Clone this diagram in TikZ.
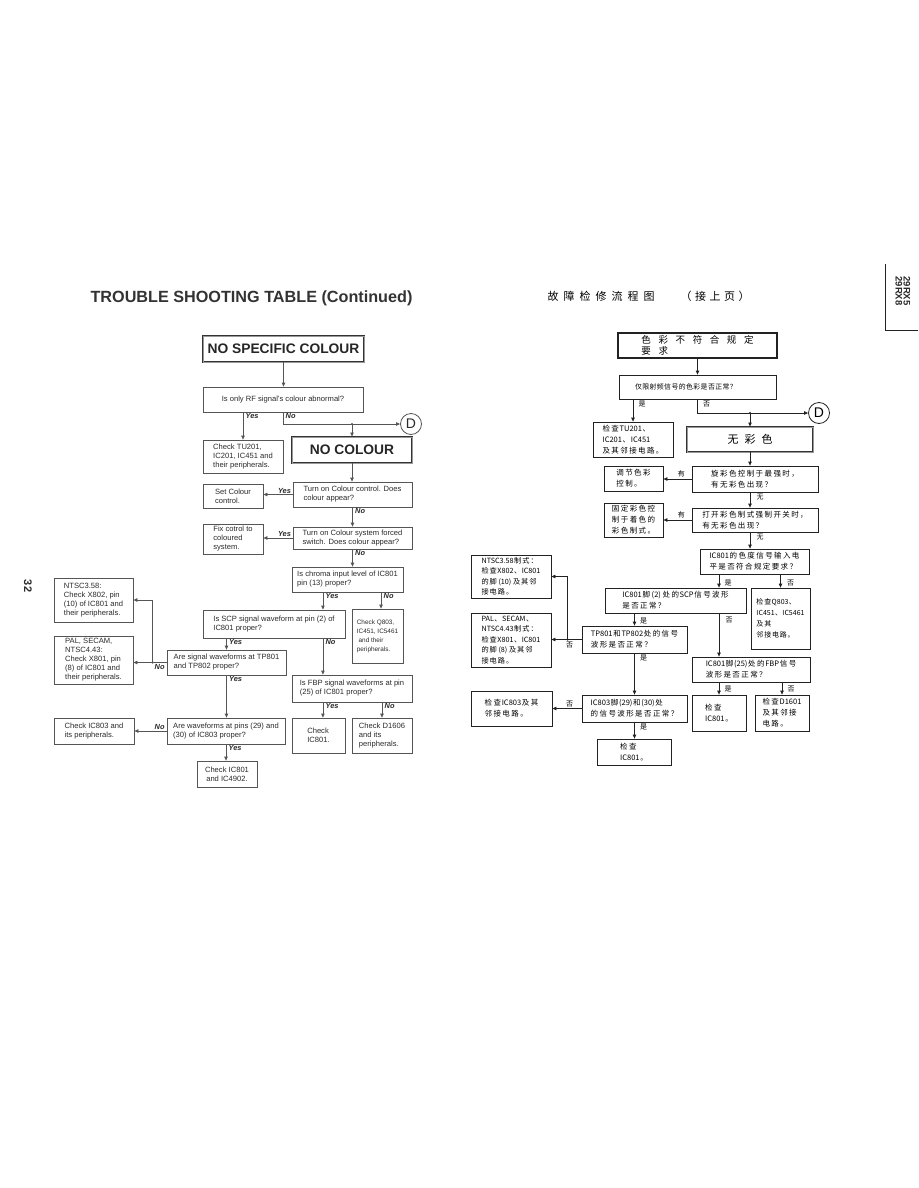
\documentclass[tikz,border=0pt]{standalone}
\usepackage{fontspec}
\setmainfont{Liberation Sans}
\newfontfamily\cjk{Noto Sans CJK SC}
\usetikzlibrary{arrows.meta,calc}
% spacing between CJK characters only (Latin left untouched)
\XeTeXinterchartokenstate=1
\newcount\cjkc
\cjkc="4E00
\loop\ifnum\cjkc<"A000 \XeTeXcharclass\cjkc=1 \advance\cjkc by 1 \repeat
\cjkc="3000
\loop\ifnum\cjkc<"3040 \XeTeXcharclass\cjkc=1 \advance\cjkc by 1 \repeat
\cjkc="FF00
\loop\ifnum\cjkc<"FF60 \XeTeXcharclass\cjkc=1 \advance\cjkc by 1 \repeat
\newdimen\cjkgap \cjkgap=0pt
\newcommand{\gap}[1]{\global\cjkgap#1\relax}
\XeTeXinterchartoks 1 1 = {\hskip\cjkgap\relax}
\XeTeXinterchartoks 0 1 = {\hskip0.5\cjkgap\relax}
\XeTeXinterchartoks 1 0 = {\hskip0.5\cjkgap\relax}
\definecolor{lline}{HTML}{555555}
\definecolor{ltext}{HTML}{2B2B2B}
\definecolor{rline}{HTML}{222222}
\newcommand{\bx}[7][]{%
 \pgfmathsetmacro\bw{#5-#3}\pgfmathsetmacro\bh{#6-#4}%
 \node[box,minimum width=\bw pt,minimum height=\bh pt,#1] (#2) at ({(#3+#5)/2},{(#4+#6)/2}) {#7};}
\begin{document}
\begin{tikzpicture}[x=1pt,y=-1pt,
  box/.style={draw=lline,line width=0.7pt,inner sep=1pt,align=left,text=ltext,font=\fontsize{7.6}{9}\selectfont},
  rbox/.style={draw=rline,text=black,font=\cjk\fontsize{7.5}{11}\selectfont\gap{1.4pt}},
  big/.style={draw=black!80,line width=0.9pt,double=black!40,double distance=0.9pt,align=center,font=\bfseries\fontsize{13.8}{14}\selectfont,text=black!85},
  arr/.style={draw=lline,line width=0.7pt,-{Triangle[length=4pt,width=3.4pt]}},
  rarr/.style={draw=rline,line width=0.7pt,-{Triangle[length=4pt,width=3.4pt]}},
  lab/.style={font=\bfseries\itshape\fontsize{7.4}{8}\selectfont,text=ltext,inner sep=0.5pt},
  rlab/.style={font=\cjk\fontsize{7}{8}\selectfont,inner sep=0.5pt},
  dot/.style={fill=lline},
  rdot/.style={fill=rline},
  dcirc/.style={draw,circle,minimum size=21pt,inner sep=0pt,line width=0.8pt,font=\fontsize{14}{14}\selectfont}]
\useasboundingbox (0,0) rectangle (918,1188);
\fill[white] (0,0) rectangle (918,1188);

% ---------------- left page ----------------
\node[font=\bfseries\fontsize{16.2}{17}\selectfont,text=black!80] (ltitle) at (251.5,298) {TROUBLE SHOOTING TABLE (Continued)};
\node[rotate=-90,font=\bfseries\fontsize{11}{11}\selectfont,text=ltext] (pg) at (28,586) {32};

\bx[big]{nsc}{203}{336}{364}{362}{NO SPECIFIC COLOUR}
\bx[align=center]{q1}{203}{387}{363}{412}{Is only RF signal's colour abnormal?}
\bx{tu}{203}{440}{283}{473}{Check TU201,\\IC201, IC451 and\\their peripherals.}
\bx[big]{nc}{292}{437}{412}{463}{NO COLOUR}
\bx{c1}{293}{482}{412}{507}{Turn on Colour control. Does\\colour appear?}
\bx{setc}{203}{484}{263}{508}{Set Colour\\control.}
\bx{c2}{293}{527}{412}{549}{Turn on Colour system forced\\switch. Does colour appear?}
\bx{fix}{203}{524}{263}{554}{Fix cotrol to\\coloured\\system.}
\bx{c3}{292}{567}{403}{592}{Is chroma input level of IC801\\pin (13) proper?}
\bx{scp}{203}{610}{345}{638}{Is SCP signal waveform at pin (2) of\\IC801 proper?}
\bx[font=\fontsize{6.4}{9}\selectfont]{q803}{352}{609}{403}{663}{Check Q803,\\IC451, IC5461\\\ and their\\peripherals.}
\bx{tp}{167}{650}{286}{675}{Are signal waveforms at TP801\\and TP802 proper?}
\bx{ntsc}{54}{578}{133}{622}{NTSC3.58:\\Check X802, pin\\(10) of IC801 and\\their peripherals.}
\bx{pal}{54}{636}{133}{684}{PAL, SECAM,\\NTSC4.43:\\Check X801, pin\\(8) of IC801 and\\their peripherals.}
\bx{fbp}{292}{675}{412}{702}{Is FBP signal waveforms at pin\\(25) of IC801 proper?}
\bx{ic801}{292}{718}{345}{753}{Check\\IC801.}
\bx{d1606}{352}{718}{412}{753}{Check D1606\\and its\\peripherals.}
\bx{w29}{167}{718}{285}{744}{Are waveforms at pins (29) and\\(30) of IC803 proper?}
\bx{ic803}{54}{718}{134}{744}{Check IC803 and\\its peripherals.}
\bx[align=center]{chk}{197}{761}{257}{787}{Check IC801\\and IC4902.}
\node[dcirc,draw=lline,text=ltext] (D) at (411,424) {D};

\draw[arr] (nsc.south) -- (nsc.south |- q1.north);
\draw[arr] (q1.south -| tu.north) -- (tu.north);
\node[lab,anchor=north west] at ([xshift=2pt]q1.south -| tu.north) {Yes};
\draw[arr] (q1.south) |- (D.west);
\node[lab,anchor=north west] at ([xshift=2pt]q1.south) {No};
\coordinate (j0) at (nc.north |- D.west);
\fill[dot] (j0) circle (1.2pt);
\draw[arr] (j0) -- (nc.north);
\draw[arr] (nc.south) -- (nc.south |- c1.north);
\draw[arr] (c1.west) -- (c1.west -| setc.east);
\node[lab,anchor=south east] at ([xshift=-1pt,yshift=0.5pt]c1.west) {Yes};
\draw[arr] (c1.south) -- (c1.south |- c2.north);
\node[lab,anchor=north west] at ([xshift=2pt]c1.south) {No};
\draw[arr] (c2.west) -- (c2.west -| fix.east);
\node[lab,anchor=south east] at ([xshift=-1pt,yshift=0.5pt]c2.west) {Yes};
\draw[arr] (c2.south) -- (c2.south |- c3.north);
\node[lab,anchor=north west] at ([xshift=2pt]c2.south) {No};
\coordinate (c3y) at ($(c3.south west)!0.28!(c3.south east)$);
\coordinate (c3n) at ($(c3.south west)!0.8!(c3.south east)$);
\draw[arr] (c3y) -- (c3y |- scp.north);
\node[lab,anchor=north west] at ([xshift=2pt]c3y) {Yes};
\draw[arr] (c3n) -- (c3n |- q803.north);
\node[lab,anchor=north west] at ([xshift=2pt]c3n) {No};
\draw[arr] (scp.south -| tp.north) -- (tp.north);
\node[lab,anchor=north west] at ([xshift=2pt]scp.south -| tp.north) {Yes};
\draw[arr] (scp.south -| c3y) -- (c3y |- fbp.north);
\node[lab,anchor=north west] at ([xshift=2pt]scp.south -| c3y) {No};
\coordinate (j1) at ($(tp.west)+(-14,0)$);
\draw[arr] (tp.west) -- (tp.west -| pal.east);
\draw[arr] (j1) |- (ntsc.east);
\fill[dot] (j1) circle (1.2pt);
\node[lab,anchor=north] at ([xshift=-7pt,yshift=-1.5pt]tp.west) {No};
\draw[arr] (tp.south) -- (tp.south |- w29.north);
\node[lab,anchor=north west] at ([xshift=2pt]tp.south) {Yes};
\draw[arr] (fbp.south -| c3y) -- (c3y |- ic801.north);
\node[lab,anchor=north west] at ([xshift=2pt]fbp.south -| c3y) {Yes};
\draw[arr] (fbp.south -| d1606.north) -- (d1606.north);
\node[lab,anchor=north west] at ([xshift=2pt]fbp.south -| d1606.north) {No};
\draw[arr] (w29.west) -- (w29.west -| ic803.east);
\node[lab,anchor=south] at ([xshift=-7pt,yshift=1pt]w29.west) {No};
\draw[arr] (w29.south) -- (w29.south |- chk.north);
\node[lab,anchor=north west] at ([xshift=2pt]w29.south) {Yes};

% ---------------- right page ----------------
\node[font={\cjk\fontsize{11}{12}\selectfont\gap{5pt}}] (rtitle) at (601,296) {故障检修流程图};
\node[font={\cjk\fontsize{11}{12}\selectfont\gap{3.5pt}}] (rtitle2) at (715,296) {（接上页）};
\node[rotate=-90,align=center,font=\bfseries\fontsize{9.5}{8}\selectfont,text=ltext] (mdl) at (903,291) {29RX5\\29RX8};
\draw[line width=0.8pt,draw=rline] (885,264) -- (885,330) -- (918,330);

\bx[rbox,line width=1.4pt,font={\cjk\fontsize{9.5}{11}\selectfont\gap{7.6pt}}]{rt}{618}{333}{777}{358}{色彩不符合规定\\要求}
\bx[rbox,align=left,text width=125pt,font={\cjk\fontsize{6.9}{8}\selectfont\gap{0.4pt}}]{rq1}{619}{375}{776}{399}{仅限射频信号的色彩是否正常？}
\bx[rbox]{rtu}{593}{422}{673}{457}{检查TU201、\\IC201、IC451\\及其邻接电路。}
\bx[rbox,big,font={\cjk\fontsize{11}{12}\selectfont\gap{6pt}},text=black]{rnc}{687}{427}{813}{452}{无彩色}
\bx[rbox]{rc1}{692}{466}{818}{492}{旋彩色控制于最强时，\\有无彩色出现？}
\bx[rbox]{rset}{604}{466}{663}{491}{调节色彩\\控制。}
\bx[rbox]{rc2}{692}{508}{818}{532}{打开彩色制式强制开关时，\\有无彩色出现？}
\bx[rbox]{rfix}{604}{503}{663}{537}{固定彩色控\\制于着色的\\彩色制式。}
\bx[rbox]{rc3}{700}{549}{809}{574}{IC801的色度信号输入电\\平是否符合规定要求？}
\bx[rbox]{rscp}{605}{588}{746}{613}{IC801脚 (2) 处的SCP信号波形\\是否正常？}
\bx[rbox,font={\cjk\fontsize{7}{11}\selectfont\gap{0.8pt}}]{rq803}{751}{588}{810}{649}{检查Q803、\\IC451、IC5461\\及其\\邻接电路。}
\bx[rbox]{rtp}{582}{626}{687}{653}{TP801和TP802处的信号\\波形是否正常？}
\bx[rbox,font={\cjk\fontsize{7.2}{10.5}\selectfont\gap{1pt}}]{rntsc}{471}{555}{551}{598}{NTSC3.58制式：\\检查X802、IC801\\的脚 (10) 及其邻\\接电路。}
\bx[rbox,font={\cjk\fontsize{7.2}{10.5}\selectfont\gap{1pt}}]{rpal}{471}{613}{551}{667}{PAL、SECAM、\\NTSC4.43制式：\\检查X801、IC801\\的脚 (8) 及其邻\\接电路。}
\bx[rbox]{rfbp}{692}{657}{810}{682}{IC801脚(25)处的FBP信号\\波形是否正常？}
\bx[rbox]{ric801}{692}{695}{746}{731}{检查\\IC801。}
\bx[rbox]{rd1601}{755}{695}{809}{731}{检查D1601\\及其邻接\\电路。}
\bx[rbox]{rw29}{582}{695}{687}{722}{IC803脚(29)和(30)处\\的信号波形是否正常？}
\bx[rbox]{ric803}{471}{691}{552}{726}{检查IC803及其\\邻接电路。}
\bx[rbox]{rchk}{597}{739}{671}{765}{检查\\IC801。}
\node[dcirc,draw=rline] (rD) at (819,413) {D};

\draw[rarr] (rt.south) -- (rt.south |- rq1.north);
\draw[rarr] (rq1.south -| rtu.north) -- (rtu.north);
\node[rlab,anchor=north west] at ([xshift=5pt,yshift=-1pt]rq1.south -| rtu.north) {是};
\draw[rarr] (rq1.south) |- (rD.west);
\node[rlab,anchor=north west] at ([xshift=5pt,yshift=-1pt]rq1.south) {否};
\coordinate (rj) at (rnc.north |- rD.west);
\fill[rdot] (rj) circle (1.2pt);
\draw[rarr] (rj) -- (rnc.north);
\draw[rarr] (rnc.south) -- (rnc.south |- rc1.north);
\draw[rarr] (rc1.west) -- (rc1.west -| rset.east);
\node[rlab,anchor=south east] at ([xshift=-6pt,yshift=1pt]rc1.west) {有};
\draw[rarr] (rnc.south |- rc1.south) -- (rnc.south |- rc2.north);
\node[rlab,anchor=north west] at ([xshift=6pt,yshift=-1pt]rnc.south |- rc1.south) {无};
\draw[rarr] (rc2.west) -- (rc2.west -| rfix.east);
\node[rlab,anchor=south east] at ([xshift=-6pt,yshift=1pt]rc2.west) {有};
\draw[rarr] (rnc.south |- rc2.south) -- (rnc.south |- rc3.north);
\node[rlab,anchor=north west] at ([xshift=6pt,yshift=-1pt]rnc.south |- rc2.south) {无};
\draw[rarr] (rc3.south -| ric801.north) -- (ric801.north |- rscp.north);
\node[rlab,anchor=west] at ([xshift=5pt,yshift=5pt]ric801.north |- rscp.north) {是};
\draw[rarr] (rc3.south -| rq803.north) -- (rq803.north);
\node[rlab,anchor=west] at ([xshift=6pt,yshift=5pt]rq803.north) {否};
\draw[rarr] (rscp.south -| rtp.north) -- (rtp.north);
\node[rlab,anchor=west] at ([xshift=5pt,yshift=5pt]rtp.north) {是};
\draw[rarr] (rscp.south -| ric801.north) -- (ric801.north |- rfbp.north);
\node[rlab,anchor=north west] at ([xshift=6pt,yshift=-3pt]rscp.south -| ric801.north) {否};
\coordinate (rj1) at ($(rtp.west)+(-14,0)$);
\draw[rarr] (rtp.west) -- (rtp.west -| rpal.east);
\draw[rarr] (rj1) |- (rntsc.east);
\fill[rdot] (rj1) circle (1.2pt);
\node[rlab,anchor=north] at ([xshift=-12pt,yshift=-2pt]rtp.west) {否};
\draw[rarr] (rtp.south) -- (rtp.south |- rw29.north);
\node[rlab,anchor=north west] at ([xshift=5pt,yshift=-1pt]rtp.south) {是};
\draw[rarr] (rfbp.south -| ric801.north) -- (ric801.north);
\node[rlab,anchor=west] at ([xshift=5pt,yshift=6pt]ric801.north) {是};
\draw[rarr] (rfbp.south -| rd1601.north) -- (rd1601.north);
\node[rlab,anchor=west] at ([xshift=5pt,yshift=6pt]rd1601.north) {否};
\draw[rarr] (rw29.west) -- (rw29.west -| ric803.east);
\node[rlab,anchor=south] at ([xshift=-12pt,yshift=1pt]rw29.west) {否};
\draw[rarr] (rw29.south) -- (rw29.south |- rchk.north);
\node[rlab,anchor=north west] at ([xshift=5pt,yshift=-1pt]rw29.south) {是};
\end{tikzpicture}
\end{document}
